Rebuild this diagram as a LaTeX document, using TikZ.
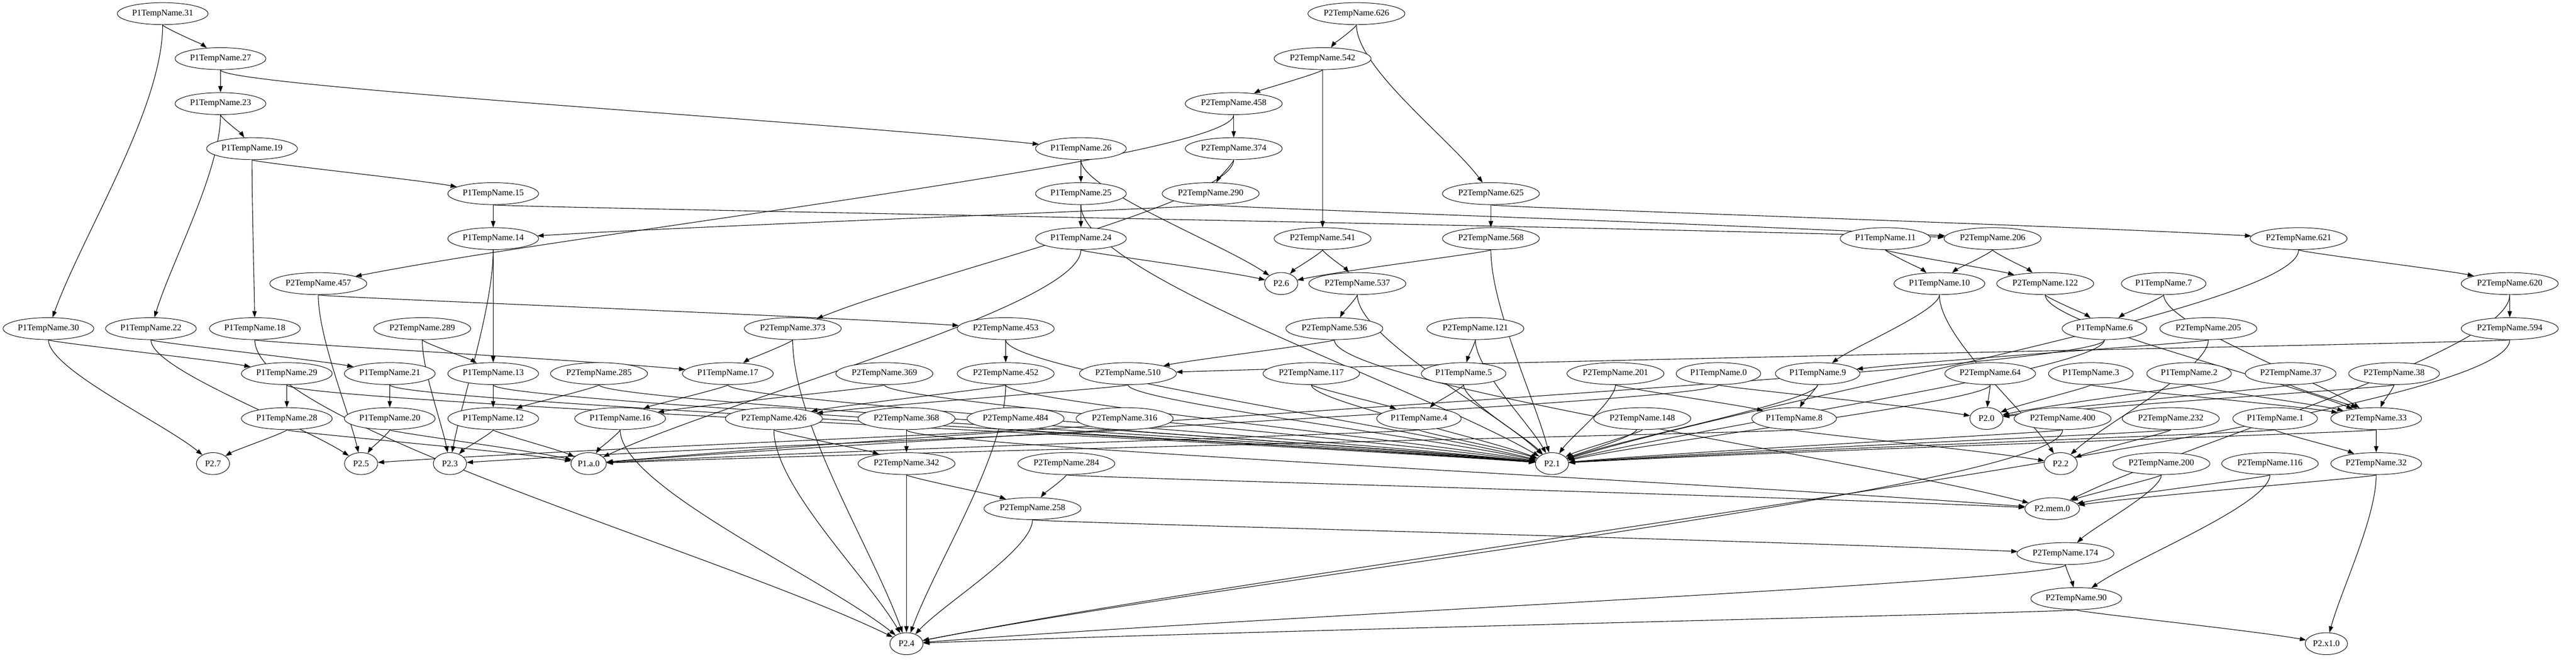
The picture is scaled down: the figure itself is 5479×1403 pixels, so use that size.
\documentclass[tikz,border=0pt]{standalone}
\usepackage{fontspec}
\setmainfont{Liberation Serif}
\usetikzlibrary{shapes.geometric,arrows.meta,calc,positioning,backgrounds}

\begin{document}
\begin{tikzpicture}[x=0.75pt,y=-0.75pt,line join=round,line cap=round,thick,
	nd/.style={draw,fill=white,ellipse,inner xsep=2.5pt,inner ysep=0pt,minimum height=35pt,font=\fontsize{14}{16}\selectfont},
	snk/.style={nd,minimum width=53pt},
	arr/.style={line width=0.9pt,-{Triangle[length=10pt,width=7pt]}}]
		\useasboundingbox (0,0) rectangle (5479,1403);
		% P1 nodes: number / x / rank
		\foreach \n/\x/\r in {31/346/0,27/469/1,23/469/2,19/536/3,26/2299/3,15/1049/4,25/2299/4,14/1049/5,24/2299/5,11/4010/5,
			10/4125/6,7/4602/6,30/103/7,22/321/7,18/542/7,6/4476/7,29/610/8,21/829/8,13/1049/8,17/1548/8,5/3113/8,0/3655/8,9/3866/8,
			3/4447/8,2/4656/8,28/610/9,20/829/9,12/1049/9,16/1319/9,4/3018/9,8/3816/9,1/4839/9}
			{\node[nd] (a\n) at (\x,{29+95.7*\r}) {P1TempName.\n};}
		% P2 nodes: number / x / rank
		\foreach \n/\x/\r in {626/2885/0,542/2813/1,458/2624/2,374/2624/3,290/2575/4,625/3171/4,541/2813/5,568/3171/5,206/4238/5,
			621/4889/5,457/677/6,537/2887/6,122/4350/6,620/5338/6,289/898/7,373/1686/7,453/2139/7,536/2838/7,121/3138/7,205/4697/7,
			594/5338/7,285/1274/8,369/1881/8,452/2139/8,510/2399/8,117/2789/8,201/3436/8,64/4233/8,37/4872/8,38/5092/8,
			426/1646/9,368/1928/9,484/2160/9,316/2392/9,148/3493/9,400/4387/9,232/4617/9,33/5054/9,
			342/1928/10,284/2268/10,200/4597/10,116/4828/10,32/5054/10,258/2196/11,174/4393/12,90/4416/13}
			{\node[nd] (b\n) at (\x,{29+95.7*\r}) {P2TempName.\n};}
		% sinks
		\node[snk] (s7) at (453,986) {P2.7};
		\node[snk] (s5) at (768,986) {P2.5};
		\node[snk] (s3) at (957,986) {P2.3};
		\node[snk] (sa) at (1252,986) {P1.a.0};
		\node[snk] (s6) at (2725,603) {P2.6};
		\node[snk] (s1) at (3301,986) {P2.1};
		\node[snk] (s0) at (4225,890) {P2.0};
		\node[snk] (s2) at (4383,986) {P2.2};
		\node[snk] (smem) at (4365,1082) {P2.mem.0};
		\node[snk] (s4) at (1928,1369) {P2.4};
		\node[snk] (sx) at (4948,1369) {P2.x1.0};
		% edges
		\begin{pgfonlayer}{background}
		\foreach \s/\t in {a31/a27,a31/a30,a27/a23,a27/a26,a23/a19,a23/a22,a19/a15,a19/a18,a15/a14,a15/b206,a14/a13,a14/s3,
			a30/a29,a30/s7,a22/a21,a22/s5,a18/s4,a18/a17,b289/a13,b289/s3,b457/b453,b457/s5,a29/a28,a29/s1,a21/a20,a21/s1,
			a13/a12,a13/s1,b285/a12,b285/s1,a28/s7,a28/sa,a20/s5,a20/sa,a12/s3,a12/sa,a16/sa,a16/s4,a17/a16,a17/s1,
			b373/a17,b373/s4,b453/b452,b453/s1,b369/a16,b369/s1,b452/b426,b452/s4,b452/s1,b510/b426,b510/s1,b426/b342,b426/s4,
			b368/b342,b368/smem,b484/s5,b484/s1,b316/s3,b316/s1,b342/b258,b342/s4,b284/b258,b284/smem,b258/s4,b258/b174,
			b458/b374,b458/b457,b374/b290,b374/b373,b290/a14,b290/b206,a26/a25,a26/s6,a25/a24,a25/s1,a24/s6,a24/sa,
			b626/b542,b626/b625,b542/b458,b542/b541,b625/b568,b625/b621,b541/s6,b541/b537,b568/s6,b568/s1,b537/b536,b537/s1,
			b536/b510,b536/smem,b121/a5,b121/s1,b117/a4,b117/s1,a5/a4,a5/s1,a4/s1,a4/sa,b201/a8,b201/s1,a0/s0,a0/sa,
			a9/a8,a9/s1,b148/s1,a8/sa,a8/s2,a11/a10,a11/b122,b206/a10,b206/b122,a10/a9,a10/s2,b122/a6,b122/b33,a7/a6,a7/b33,
			b621/b620,b621/s1,b620/b594,b620/smem,a6/s1,a6/sa,b205/a9,b205/s2,b594/b510,b594/s4,b64/s0,b64/s1,
			a3/s0,a3/b33,a2/s0,a2/b33,b37/s0,b37/b33,b38/s0,b38/b33,b400/s4,b400/s1,b232/s2,b232/s1,a1/b32,a1/s1,
			b33/b32,b33/s1,b200/smem,b200/b174,b116/smem,b116/b90,b32/smem,b32/sx,b174/b90,b174/s4,b90/sx,b90/s4}
			{\draw[arr] (\s) .. controls ($(\s)!0.3!(\s|-\t)$) and ($(\t)!0.3!(\s)$) .. (\t);}
		% the doubled edge of 148
		\draw[arr] (b148) .. controls ($(b148)+(-20,40)$) and ($(s1)!0.3!(b148)+(8,4)$) .. (s1);
		\end{pgfonlayer}
		\end{tikzpicture}
\end{document}
